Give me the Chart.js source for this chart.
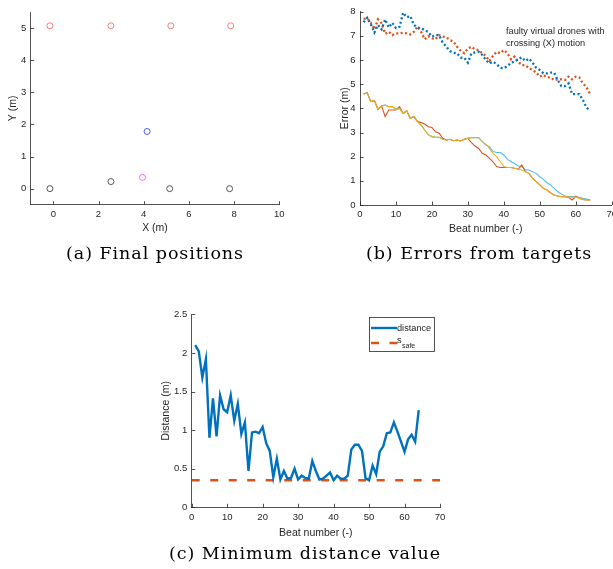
<!DOCTYPE html>
<html>
<head>
<meta charset="utf-8">
<script src="https://cdn.jsdelivr.net/npm/chart.js@4.4.1/dist/chart.umd.min.js"></script>
<style>
  html, body { margin:0; padding:0; background:#fff; width:613px; height:569px; overflow:hidden; }
  .box { position:absolute; }
  .cap { position:absolute; font-family:"DejaVu Serif", "Liberation Serif", serif; font-size:17.5px; letter-spacing:0.95px; color:#000; white-space:nowrap; transform:translateX(-50%); }
</style>
</head>
<body>
<div class="box" style="left:0;top:0;width:300px;height:245px;"><canvas id="ca"></canvas></div>
<div class="box" style="left:300px;top:0;width:313px;height:245px;"><canvas id="cb"></canvas></div>
<div class="box" style="left:150px;top:300px;width:313px;height:245px;"><canvas id="cc"></canvas></div>
<div class="cap" style="left:155px;top:243px;">(a) Final positions</div>
<div class="cap" style="left:479px;top:243px;">(b) Errors from targets</div>
<div class="cap" style="left:305px;top:543px;">(c) Minimum distance value</div>
<script>
// ---------- (a) Final positions ----------
const finalTargetsX = [-0.15, 2.55, 5.2, 7.85];
const finalTargetsY = [5.07, 5.07, 5.07, 5.07];
const finalDronesX = [-0.15, 2.55, 5.15, 7.8];
const finalDronesY = [0.0, 0.22, 0.0, 0.0];
const faultyBlueX = [4.15];
const faultyBlueY = [1.78];
const faultyMagentaX = [3.95];
const faultyMagentaY = [0.35];
const aXTicks = [0, 2, 4, 6, 8, 10];
const aYTicks = [0, 1, 2, 3, 4, 5];

// ---------- (b) Errors from targets ----------
const beats = Array.from({length: 64}, (_, i) => i + 1);
const faultyErrBlue = [7.56,7.75,7.49,7.14,7.45,7.27,7.68,7.35,7.54,7.32,7.38,7.96,7.77,7.82,7.45,7.35,7.31,7.24,7.16,6.97,7.03,7.03,6.72,6.55,6.37,6.30,6.28,6.10,6.10,5.89,6.28,6.32,6.34,6.21,6.00,5.86,5.93,5.83,5.68,5.66,5.75,5.89,5.93,6.03,6.11,5.96,6.06,5.89,5.68,5.59,5.45,5.45,5.48,5.48,5.17,4.92,4.92,5.03,4.59,4.59,4.59,4.34,4.03,3.90];
const faultyErrOrange = [7.70,7.72,7.54,7.27,7.68,7.52,7.08,7.17,7.03,7.10,7.10,7.13,7.10,7.06,7.17,7.38,7.17,6.86,6.99,6.90,6.86,7.03,6.97,6.94,6.83,6.76,6.55,6.39,6.28,6.48,6.55,6.44,6.41,6.28,6.17,5.96,6.17,6.34,6.28,6.41,6.28,6.03,6.14,5.93,5.79,5.79,5.66,5.59,5.48,5.31,5.38,5.28,5.28,5.17,5.20,5.20,5.17,5.31,5.20,5.31,5.28,5.03,4.87,4.59];
const droneErrCyan = [4.59,4.65,4.28,4.32,3.96,4.10,4.14,4.07,4.07,3.96,4.00,3.79,3.90,3.59,3.66,3.45,3.31,3.10,2.90,2.83,2.80,2.80,2.72,2.69,2.72,2.66,2.69,2.65,2.72,2.76,2.79,2.79,2.79,2.62,2.48,2.41,2.21,2.17,2.17,2.07,1.89,1.79,1.72,1.61,1.59,1.45,1.45,1.38,1.31,1.17,1.06,0.92,0.83,0.69,0.55,0.46,0.37,0.34,0.36,0.34,0.32,0.28,0.25,0.22];
const droneErrRed = [4.59,4.65,4.28,4.32,3.96,4.10,3.66,3.93,3.93,3.93,4.07,3.79,3.90,3.59,3.66,3.45,3.41,3.35,3.24,3.21,3.03,2.97,2.76,2.69,2.72,2.66,2.69,2.65,2.72,2.76,2.58,2.44,2.34,2.14,2.07,1.93,1.79,1.59,1.55,1.55,1.55,1.55,1.52,1.48,1.66,1.38,1.31,1.10,0.97,0.83,0.69,0.62,0.51,0.41,0.37,0.34,0.34,0.32,0.21,0.36,0.28,0.23,0.21,0.21];
const droneErrYellow = [4.59,4.65,4.28,4.32,3.96,4.10,4.14,4.07,4.07,3.96,4.00,3.79,3.90,3.59,3.66,3.45,3.31,3.10,2.90,2.83,2.80,2.80,2.72,2.69,2.72,2.66,2.69,2.65,2.72,2.76,2.79,2.79,2.79,2.62,2.52,2.34,2.14,2.00,1.79,1.59,1.55,1.55,1.52,1.48,1.45,1.38,1.31,1.10,0.97,0.83,0.69,0.62,0.51,0.41,0.37,0.34,0.34,0.32,0.32,0.34,0.28,0.23,0.21,0.21];
const bXTicks = [0, 10, 20, 30, 40, 50, 60, 70];
const bYTicks = [0, 1, 2, 3, 4, 5, 6, 7, 8];
const bNote = ["faulty virtual drones with", "crossing (X) motion"];

// ---------- (c) Minimum distance value ----------
const minDistance = [2.10,2.02,1.68,1.92,0.90,1.41,0.92,1.45,1.27,1.23,1.45,1.12,1.34,0.95,1.10,0.47,0.97,0.98,0.96,1.04,0.83,0.73,0.39,0.63,0.36,0.47,0.37,0.38,0.50,0.36,0.41,0.38,0.37,0.60,0.47,0.36,0.37,0.41,0.45,0.35,0.41,0.37,0.37,0.41,0.75,0.81,0.81,0.73,0.38,0.35,0.54,0.43,0.72,0.79,0.96,0.97,1.10,0.98,0.85,0.72,0.88,0.94,0.85,1.26];
const sSafe = 0.35;
const sSafeX = [0, 70];
const cXTicks = [0, 10, 20, 30, 40, 50, 60, 70];
const cYTicks = [0, 0.5, 1, 1.5, 2, 2.5];
const cLegend = ["distance", "s", "safe"];

// ---------- helpers ----------
const AX = '#262626';
const TICKFONT = {family: '"Liberation Sans", Arial, sans-serif', size: 9.5};
const TITLEFONT = {family: '"Liberation Sans", Arial, sans-serif', size: 10.5};

function fixedAxis(kind, size, ticksArr, min, max, title, titlePad, tickPad) {
  return {
    type: 'linear', min: min, max: max,
    grid: {display: false, drawTicks: false},
    border: {display: true, color: AX, width: 0.8},
    ticks: {color: AX, font: TICKFONT, padding: tickPad, autoSkip: false, maxRotation: 0,
            callback: (v) => String(v)},
    title: {display: true, text: title, color: AX, font: TITLEFONT, padding: titlePad},
    afterBuildTicks: (s) => { s.ticks = ticksArr.map(v => ({value: v})); },
    afterFit: (s) => {
      if (kind === 'x') { s.height = size; } else { s.width = size; }
      s.paddingLeft = 0; s.paddingRight = 0; s.paddingTop = 0; s.paddingBottom = 0;
    }
  };
}

const inwardTicks = {
  id: 'inwardTicks',
  afterDraw(chart) {
    const ctx = chart.ctx, ca = chart.chartArea, L = 3.5;
    ctx.save();
    ctx.strokeStyle = AX; ctx.lineWidth = 0.8;
    const xs = chart.scales.x, ys = chart.scales.y;
    xs.ticks.forEach(t => {
      const p = Math.round(xs.getPixelForValue(t.value)) + 0.5;
      ctx.beginPath(); ctx.moveTo(p, ca.bottom); ctx.lineTo(p, ca.bottom - L); ctx.stroke();
    });
    ys.ticks.forEach(t => {
      const p = Math.round(ys.getPixelForValue(t.value)) + 0.5;
      ctx.beginPath(); ctx.moveTo(ca.left, p); ctx.lineTo(ca.left + L, p); ctx.stroke();
    });
    ctx.restore();
  }
};

function pts(xs, ys) { return xs.map((x, i) => ({x: x, y: ys[i]})); }
function ser(ys) { return beats.map((b, i) => ({x: b, y: ys[i]})); }

const baseOpts = {
  responsive: true, maintainAspectRatio: false, animation: false,
  plugins: {legend: {display: false}, tooltip: {enabled: false}},
};

// ---------- chart (a) ----------
new Chart(document.getElementById('ca'), {
  type: 'scatter',
  data: {datasets: [
    {data: pts(finalTargetsX, finalTargetsY), borderColor: '#f2706a', backgroundColor: 'transparent', pointRadius: 3, borderWidth: 0.9},
    {data: pts(finalDronesX, finalDronesY), borderColor: '#444', backgroundColor: 'transparent', pointRadius: 3, borderWidth: 0.9},
    {data: pts(faultyBlueX, faultyBlueY), borderColor: '#3b4cf5', backgroundColor: 'transparent', pointRadius: 3, borderWidth: 0.9},
    {data: pts(faultyMagentaX, faultyMagentaY), borderColor: '#ff55ff', backgroundColor: 'transparent', pointRadius: 3, borderWidth: 0.9},
  ]},
  options: Object.assign({}, baseOpts, {
    layout: {padding: {top: 12, right: 20.7, left: 0, bottom: 0}},
    scales: {
      x: fixedAxis('x', 40.3, aXTicks, -1, 10, 'X (m)', {top: 0, bottom: 10.5}, 4),
      y: fixedAxis('y', 30.7, aYTicks, -0.5, 5.5, 'Y (m)', {top: 6.7, bottom: 0}, 4.5),
    }
  }),
  plugins: [inwardTicks]
});

// ---------- chart (b) ----------
const noteB = {
  id: 'noteB',
  afterDraw(chart) {
    const ctx = chart.ctx;
    ctx.save();
    ctx.fillStyle = AX;
    ctx.font = '9.2px "Liberation Sans", Arial, sans-serif';
    ctx.textBaseline = 'middle';
    ctx.textAlign = 'left';
    ctx.fillText(bNote[0], 206, 31);
    ctx.fillText(bNote[1], 206, 43);
    ctx.restore();
  }
};
const dotted = (ys, col) => ({data: ser(ys), borderColor: col, borderWidth: 2.3, borderDash: [2, 2.4], pointRadius: 0, fill: false, tension: 0});
const solid = (ys, col) => ({data: ser(ys), borderColor: col, borderWidth: 1.1, pointRadius: 0, fill: false, tension: 0});
// Chart.js draws the first dataset on top
new Chart(document.getElementById('cb'), {
  type: 'line',
  data: {datasets: [
    dotted(faultyErrBlue, '#0072BD'),
    dotted(faultyErrOrange, '#D95319'),
    solid(droneErrYellow, '#EDB120'),
    solid(droneErrRed, '#D95319'),
    solid(droneErrCyan, '#4DBEEE'),
  ]},
  options: Object.assign({}, baseOpts, {
    layout: {padding: {top: 11.7, right: 1.3, left: 0, bottom: 0}},
    scales: {
      x: fixedAxis('x', 40, bXTicks, 0, 70, 'Beat number (-)', {top: 0, bottom: 9.7}, 4),
      y: fixedAxis('y', 60, bYTicks, 0, 8, 'Error (m)', {top: 38.7, bottom: 0}, 4.5),
    }
  }),
  plugins: [inwardTicks, noteB]
});

// ---------- chart (c) ----------
const legendC = {
  id: 'legendC',
  afterDraw(chart) {
    const ctx = chart.ctx;
    ctx.save();
    const x0 = 219.5, y0 = 17.5, w = 65, h = 34;
    ctx.fillStyle = '#fff'; ctx.fillRect(x0, y0, w, h);
    ctx.strokeStyle = AX; ctx.lineWidth = 0.8; ctx.strokeRect(x0, y0, w, h);
    ctx.lineWidth = 2.4;
    ctx.strokeStyle = '#0072BD';
    ctx.beginPath(); ctx.moveTo(221, 28); ctx.lineTo(247, 28); ctx.stroke();
    ctx.strokeStyle = '#D95319'; ctx.setLineDash([8, 10.5]);
    ctx.beginPath(); ctx.moveTo(221, 43); ctx.lineTo(248, 43); ctx.stroke();
    ctx.setLineDash([]);
    ctx.fillStyle = AX; ctx.textBaseline = 'middle'; ctx.textAlign = 'left';
    ctx.font = '9.2px "Liberation Sans", Arial, sans-serif';
    ctx.fillText(cLegend[0], 247, 28);
    ctx.fillText(cLegend[1], 247, 40.5);
    ctx.font = '7px "Liberation Sans", Arial, sans-serif';
    ctx.fillText(cLegend[2], 252, 46);
    ctx.restore();
  }
};
new Chart(document.getElementById('cc'), {
  type: 'line',
  data: {datasets: [
    {data: ser(minDistance), borderColor: '#0072BD', borderWidth: 2.4, pointRadius: 0, fill: false, tension: 0},
    {data: sSafeX.map(x => ({x: x, y: sSafe})), borderColor: '#D95319', borderWidth: 2.4, borderDash: [8, 10.5], pointRadius: 0, fill: false},
  ]},
  options: Object.assign({}, baseOpts, {
    layout: {padding: {top: 14.3, right: 23, left: 0, bottom: 0}},
    scales: {
      x: fixedAxis('x', 37.7, cXTicks, 0, 70, 'Beat number (-)', {top: 0, bottom: 5.7}, 4),
      y: fixedAxis('y', 41.7, cYTicks, 0, 2.5, 'Distance (m)', {top: 9.7, bottom: 0}, 4.5),
    }
  }),
  plugins: [inwardTicks, legendC]
});
</script>
</body>
</html>
